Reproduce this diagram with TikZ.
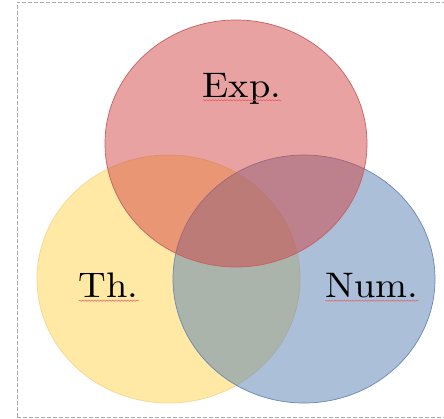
\documentclass[tikz,border=0pt]{standalone}
\usepackage{fontspec}
\setmainfont{lmroman10-regular}[Extension=.otf]
\usetikzlibrary{decorations.pathmorphing}

\definecolor{setred}{RGB}{209,69,69}
\definecolor{setredline}{RGB}{200,95,95}
\definecolor{setyellow}{RGB}{255,211,73}
\definecolor{setyellowline}{RGB}{245,215,140}
\definecolor{setblue}{RGB}{87,127,179}
\definecolor{setblueline}{RGB}{105,135,182}
\definecolor{frame}{RGB}{170,170,170}
\definecolor{squiggle}{RGB}{230,90,90}

\tikzset{
  setfill/.style={fill opacity=0.5, line width=0.7pt},
  setlabel/.style={inner sep=0pt, anchor=base,
    font=\fontsize{35.5}{40}\selectfont},
  spell/.style={draw=squiggle, line width=0.5pt,
    decorate, decoration={snake, segment length=3pt, amplitude=0.6pt}}
}

\newcommand{\widetext}[1]{\scalebox{1.08}[1]{#1}}

\begin{document}
\begin{tikzpicture}[x=1pt, y=-1pt]
  \useasboundingbox (0,0) rectangle (444,418);

  % dashed frame (runs past the right edge)
  \draw[frame, dash pattern=on 4pt off 2pt, line width=0.8pt]
    (17,417) -- (17,2) -- (460,2)
    (17,417) -- (460,417);

  % the three sets
  \filldraw[setfill, fill=setyellow, draw=setyellowline]
    (168.5,279) ellipse [x radius=131.5, y radius=124];
  \filldraw[setfill, fill=setblue, draw=setblueline]
    (304,279) ellipse [x radius=131, y radius=124];
  \filldraw[setfill, fill=setred, draw=setredline]
    (236,143.5) ellipse [x radius=131, y radius=123.5];

  % labels
  \node[setlabel] (exp) at (242,97.3) {\widetext{Exp.}};
  \node[setlabel] (th)  at (108.7,297.7) {\widetext{Th.}};
  \node[setlabel] (num) at (372,297.7) {\widetext{Num.}};

  % spell-check underlines
  \draw[spell] ([yshift=-3pt]exp.base west) -- ([yshift=-3pt]exp.base east);
  \draw[spell] ([yshift=-3pt]th.base west) -- ([yshift=-3pt]th.base east);
  \draw[spell] ([yshift=-3pt]num.base west) -- ([yshift=-3pt]num.base east);
\end{tikzpicture}
\end{document}
